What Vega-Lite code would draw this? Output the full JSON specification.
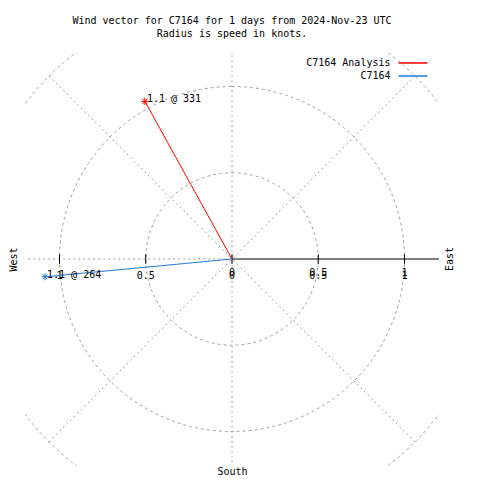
{
  "$schema": "https://vega.github.io/schema/vega-lite/v6.json",
  "width": 414,
  "height": 414,
  "autosize": {"type": "none"},
  "padding": {"left": 25, "top": 52, "right": 41, "bottom": 14},
  "background": "white",
  "config": {
    "view": {"stroke": null},
    "font": "DejaVu Sans Mono",
    "text": {"font": "DejaVu Sans Mono", "fontSize": 10, "color": "black"}
  },
  "title": {
    "text": ["Wind vector for C7164 for 1 days from 2024-Nov-23 UTC", "Radius is speed in knots."],
    "font": "DejaVu Sans Mono",
    "fontSize": 10,
    "fontWeight": "normal",
    "lineHeight": 13,
    "anchor": "middle",
    "frame": "group",
    "offset": 13,
    "color": "black"
  },
  "datasets": {
    "vectors": [
      {"series": "C7164 Analysis", "u": -0.505, "v": 0.914, "label": "1.1 @ 331"},
      {"series": "C7164", "u": -1.084, "v": -0.103, "label": "1.1 @ 264"}
    ],
    "rings": [{"r": 0.5}, {"r": 1}, {"r": 1.5}],
    "spokes": [
      {"ex": 0, "ey": 1.5},
      {"ex": 0, "ey": -1.5},
      {"ex": -1.5, "ey": 0},
      {"ex": 1.0607, "ey": 1.0607},
      {"ex": -1.0607, "ey": 1.0607},
      {"ex": 1.0607, "ey": -1.0607},
      {"ex": -1.0607, "ey": -1.0607}
    ],
    "ticks": [
      {"v": -1, "lab": "1"},
      {"v": -0.5, "lab": "0.5"},
      {"v": 0, "lab": "0"},
      {"v": 0.5, "lab": "0.5"},
      {"v": 1, "lab": "1"}
    ],
    "compass": [{"name": "East", "px": 1.262, "py": 0}]
  },
  "layer": [
    {
      "data": {"name": "spokes"},
      "mark": {"type": "rule", "stroke": "#a0a0a0", "strokeWidth": 1, "strokeDash": [2, 3], "clip": true},
      "encoding": {
        "x": {"field": "ex", "type": "quantitative",
              "scale": {"domain": [-1.2, 1.2], "nice": false, "zero": false},
              "axis": {"title": "South", "labels": false, "ticks": false, "domain": false, "grid": false,
                       "titleFont": "DejaVu Sans Mono", "titleFontSize": 10, "titleFontWeight": "normal", "titleColor": "black", "titlePadding": 0}},
        "y": {"field": "ey", "type": "quantitative",
              "scale": {"domain": [-1.2, 1.2], "nice": false, "zero": false},
              "axis": {"title": "West", "labels": false, "ticks": false, "domain": false, "grid": false,
                       "titleFont": "DejaVu Sans Mono", "titleFontSize": 10, "titleFontWeight": "normal", "titleColor": "black", "titlePadding": 7}},
        "x2": {"datum": 0},
        "y2": {"datum": 0}
      }
    },
    {
      "data": {"name": "rings"},
      "mark": {"type": "arc", "fillOpacity": 0, "stroke": "#a0a0a0", "strokeWidth": 1, "strokeDash": [3, 3], "clip": true},
      "encoding": {
        "theta": {"datum": 0, "type": "quantitative", "stack": null, "scale": {"domain": [0, 1], "range": [0, 6.2832]}},
        "theta2": {"datum": 1},
        "radius": {"field": "r", "type": "quantitative", "stack": null, "scale": {"type": "linear", "domain": [0, 1.2], "zero": true}}
      }
    },
    {
      "data": {"values": [{}]},
      "mark": {"type": "rule", "color": "black", "strokeWidth": 1},
      "encoding": {
        "x": {"datum": 0, "type": "quantitative"},
        "x2": {"datum": 1.2},
        "y": {"datum": 0, "type": "quantitative"}
      }
    },
    {
      "data": {"name": "ticks"},
      "mark": {"type": "rule", "color": "black", "strokeWidth": 1},
      "encoding": {
        "x": {"field": "v", "type": "quantitative"},
        "y": {"datum": -0.028, "type": "quantitative"},
        "y2": {"datum": 0.028}
      }
    },
    {
      "data": {"name": "ticks"},
      "mark": {"type": "text", "align": "center", "baseline": "middle", "dy": 17, "fontSize": 10},
      "encoding": {
        "x": {"field": "v", "type": "quantitative"},
        "y": {"datum": 0, "type": "quantitative"},
        "text": {"field": "lab"}
      }
    },
    {
      "data": {"name": "ticks"},
      "transform": [{"filter": "datum.v >= 0"}],
      "mark": {"type": "text", "align": "center", "baseline": "middle", "dy": 14, "fontSize": 10},
      "encoding": {
        "x": {"field": "v", "type": "quantitative"},
        "y": {"datum": 0, "type": "quantitative"},
        "text": {"field": "lab"}
      }
    },
    {
      "data": {"name": "compass"},
      "mark": {"type": "text", "angle": 270, "align": "center", "baseline": "middle", "fontSize": 10, "clip": false},
      "encoding": {
        "x": {"field": "px", "type": "quantitative"},
        "y": {"field": "py", "type": "quantitative"},
        "text": {"field": "name"}
      }
    },
    {
      "data": {"name": "vectors"},
      "mark": {"type": "rule", "strokeWidth": 1},
      "encoding": {
        "x": {"field": "u", "type": "quantitative"},
        "y": {"field": "v", "type": "quantitative"},
        "x2": {"datum": 0},
        "y2": {"datum": 0},
        "color": {
          "field": "series", "type": "nominal",
          "scale": {"domain": ["C7164 Analysis", "C7164"], "range": ["#ff0000", "#1f78dc"]},
          "legend": {
            "title": null, "orient": "none", "legendX": 382, "legendY": 5,
            "symbolType": "M-2.9,0L2.9,0", "symbolSize": 100, "symbolStrokeWidth": 1.5,
            "labelAlign": "right", "labelOffset": -28.5, "labelFont": "DejaVu Sans Mono", "labelFontSize": 10,
            "labelColor": "black", "rowPadding": 2, "padding": 0
          }
        }
      }
    },
    {
      "data": {"name": "vectors"},
      "mark": {"type": "point", "shape": "M-1,0L1,0M0,-1L0,1M-0.7,-0.7L0.7,0.7M-0.7,0.7L0.7,-0.7", "size": 50, "filled": false, "strokeWidth": 1, "opacity": 1},
      "encoding": {
        "x": {"field": "u", "type": "quantitative"},
        "y": {"field": "v", "type": "quantitative"},
        "color": {"field": "series", "type": "nominal", "legend": null}
      }
    },
    {
      "data": {"name": "vectors"},
      "mark": {"type": "text", "align": "left", "baseline": "middle", "dx": 2, "dy": -2, "fontSize": 10},
      "encoding": {
        "x": {"field": "u", "type": "quantitative"},
        "y": {"field": "v", "type": "quantitative"},
        "text": {"field": "label"}
      }
    }
  ]
}
